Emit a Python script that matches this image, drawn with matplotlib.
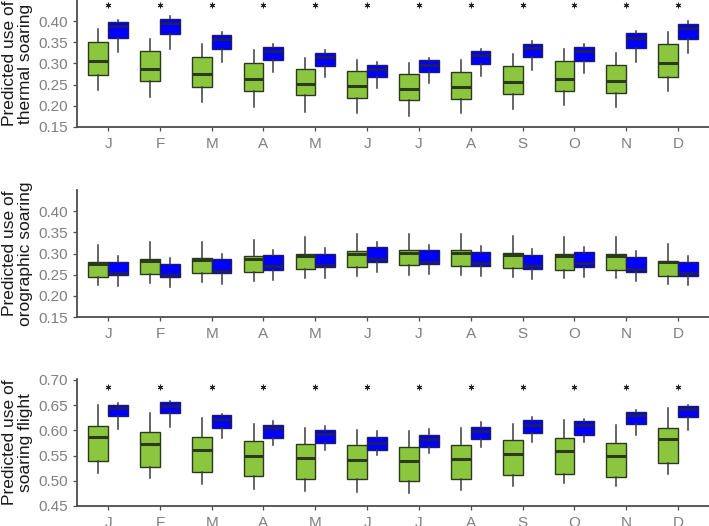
import numpy as np
import matplotlib.pyplot as plt

plt.rcParams['font.family'] = ['Liberation Sans', 'DejaVu Sans']

months = ['J', 'F', 'M', 'A', 'M', 'J', 'J', 'A', 'S', 'O', 'N', 'D']

# box stats per month: whisker low, q1, median, q3, whisker high
thermal_green = [
    (0.238, 0.273, 0.305, 0.350, 0.381), (0.221, 0.258, 0.286, 0.329, 0.357),
    (0.209, 0.245, 0.275, 0.316, 0.346), (0.197, 0.236, 0.263, 0.302, 0.331),
    (0.185, 0.225, 0.252, 0.288, 0.314), (0.182, 0.219, 0.246, 0.282, 0.308),
    (0.176, 0.214, 0.240, 0.275, 0.301), (0.182, 0.217, 0.244, 0.281, 0.308),
    (0.193, 0.229, 0.257, 0.295, 0.323), (0.202, 0.236, 0.264, 0.306, 0.335),
    (0.197, 0.230, 0.259, 0.297, 0.324), (0.234, 0.268, 0.301, 0.345, 0.374),
]
thermal_blue = [
    (0.327, 0.361, 0.388, 0.397, 0.403), (0.335, 0.369, 0.396, 0.406, 0.413),
    (0.303, 0.335, 0.357, 0.368, 0.375), (0.280, 0.308, 0.330, 0.339, 0.346),
    (0.267, 0.295, 0.316, 0.325, 0.331), (0.243, 0.269, 0.286, 0.297, 0.303),
    (0.253, 0.281, 0.297, 0.308, 0.314), (0.270, 0.299, 0.319, 0.329, 0.335),
    (0.285, 0.316, 0.337, 0.347, 0.354), (0.278, 0.307, 0.330, 0.339, 0.346),
    (0.304, 0.336, 0.361, 0.371, 0.377), (0.325, 0.358, 0.384, 0.394, 0.401),
]
orographic_green = [
    (0.225, 0.244, 0.276, 0.279, 0.321), (0.230, 0.251, 0.282, 0.287, 0.327),
    (0.232, 0.253, 0.284, 0.290, 0.328), (0.235, 0.256, 0.287, 0.293, 0.331),
    (0.241, 0.264, 0.294, 0.298, 0.340), (0.246, 0.268, 0.298, 0.305, 0.345),
    (0.250, 0.272, 0.302, 0.308, 0.347), (0.249, 0.271, 0.302, 0.308, 0.347),
    (0.244, 0.265, 0.297, 0.301, 0.341), (0.241, 0.261, 0.294, 0.298, 0.338),
    (0.241, 0.262, 0.294, 0.298, 0.339), (0.227, 0.246, 0.279, 0.282, 0.323),
]
orographic_blue = [
    (0.224, 0.249, 0.255, 0.281, 0.295), (0.221, 0.244, 0.250, 0.276, 0.290),
    (0.229, 0.253, 0.258, 0.286, 0.299), (0.238, 0.262, 0.271, 0.296, 0.309),
    (0.243, 0.267, 0.274, 0.300, 0.313), (0.256, 0.281, 0.286, 0.315, 0.328),
    (0.251, 0.275, 0.280, 0.308, 0.321), (0.246, 0.270, 0.278, 0.303, 0.317),
    (0.240, 0.264, 0.271, 0.297, 0.311), (0.245, 0.269, 0.277, 0.303, 0.316),
    (0.234, 0.257, 0.263, 0.292, 0.305), (0.225, 0.248, 0.254, 0.281, 0.294),
]
soaring_green = [
    (0.516, 0.539, 0.586, 0.609, 0.650), (0.505, 0.528, 0.573, 0.597, 0.634),
    (0.494, 0.518, 0.562, 0.587, 0.624), (0.484, 0.509, 0.550, 0.578, 0.612),
    (0.479, 0.504, 0.545, 0.572, 0.604), (0.478, 0.503, 0.542, 0.570, 0.601),
    (0.476, 0.500, 0.539, 0.568, 0.599), (0.481, 0.504, 0.543, 0.571, 0.604),
    (0.489, 0.511, 0.553, 0.580, 0.613), (0.495, 0.514, 0.559, 0.584, 0.621),
    (0.489, 0.507, 0.549, 0.575, 0.611), (0.514, 0.535, 0.583, 0.605, 0.645),
]
soaring_blue = [
    (0.603, 0.629, 0.644, 0.651, 0.654), (0.607, 0.634, 0.649, 0.656, 0.659),
    (0.584, 0.605, 0.622, 0.630, 0.633), (0.570, 0.585, 0.604, 0.611, 0.619),
    (0.562, 0.574, 0.593, 0.600, 0.609), (0.551, 0.562, 0.575, 0.586, 0.598),
    (0.555, 0.567, 0.583, 0.591, 0.603), (0.568, 0.582, 0.599, 0.607, 0.616),
    (0.577, 0.594, 0.611, 0.620, 0.626), (0.576, 0.591, 0.610, 0.618, 0.623),
    (0.590, 0.612, 0.630, 0.637, 0.640), (0.601, 0.626, 0.643, 0.649, 0.651),
]

thermal_sig = [True] * 12
orographic_sig = [False] * 12
soaring_sig = [True] * 12

panels = [
    ('Predicted use of\nthermal soaring', thermal_green, thermal_blue, thermal_sig,
     (0.15, 0.45), [0.15, 0.20, 0.25, 0.30, 0.35, 0.40], 0.438),
    ('Predicted use of\norographic soaring', orographic_green, orographic_blue, orographic_sig,
     (0.15, 0.45), [0.15, 0.20, 0.25, 0.30, 0.35, 0.40], 0.438),
    ('Predicted use of\nsoaring flight', soaring_green, soaring_blue, soaring_sig,
     (0.45, 0.702), [0.45, 0.50, 0.55, 0.60, 0.65, 0.70], 0.687),
]

green = '#8cc63f'
green_edge = '#2b3a1c'
blue = '#0000ff'
blue_edge = '#1c1c6a'
grey = '#7f7f7f'

fig = plt.figure(figsize=(7.09, 5.26), dpi=100)
boxes_px = [(0.7586, 0.2414), (0.3973, 0.2415), (0.0381, 0.2414)]


def make_stats(rows):
    return [dict(whislo=r[0], q1=r[1], med=r[2], q3=r[3], whishi=r[4], fliers=[]) for r in rows]


x = np.arange(1, 13)
for (label, g_rows, b_rows, sig, ylim, yticks, star_y), (bot, h) in zip(panels, boxes_px):
    ax = fig.add_axes([0.1086, bot, 0.8914, h])
    for rows, off, fc, ec in [(g_rows, -0.19, green, green_edge), (b_rows, 0.19, blue, blue_edge)]:
        ax.bxp(make_stats(rows), positions=x + off, widths=0.38, showfliers=False,
               showcaps=False, patch_artist=True,
               boxprops=dict(facecolor=fc, edgecolor=ec, linewidth=1.0),
               medianprops=dict(color=ec, linewidth=2.2, solid_capstyle='butt'),
               whiskerprops=dict(color='#3a3a3a', linewidth=1.1))
    xs = x[np.array(sig)]
    if len(xs):
        ax.plot(xs, [star_y] * len(xs), linestyle='none', marker=(6, 2, 0),
                markersize=4, color='#222222', markeredgewidth=0.7)
    ax.set_xlim(0.4, 12.6)
    ax.set_ylim(*ylim)
    ax.set_yticks(yticks)
    ax.set_yticklabels([f'{t:.2f}' for t in yticks])
    ax.set_xticks(x)
    ax.set_xticklabels(months)
    for s in ['top', 'right']:
        ax.spines[s].set_visible(False)
    for s in ['left', 'bottom']:
        ax.spines[s].set_color('#4d4d4d')
        ax.spines[s].set_linewidth(1.3)
    ax.tick_params(axis='both', colors='#4d4d4d', labelcolor=grey, labelsize=11,
                   length=3, width=0.9)
    ax.tick_params(axis='x', pad=4)
    ax.set_ylabel(label, fontsize=12.5, color='#1a1a1a', linespacing=1.05)
    ax.yaxis.set_label_coords(-0.07, 0.5)

fig.savefig('out.png', dpi=100)
